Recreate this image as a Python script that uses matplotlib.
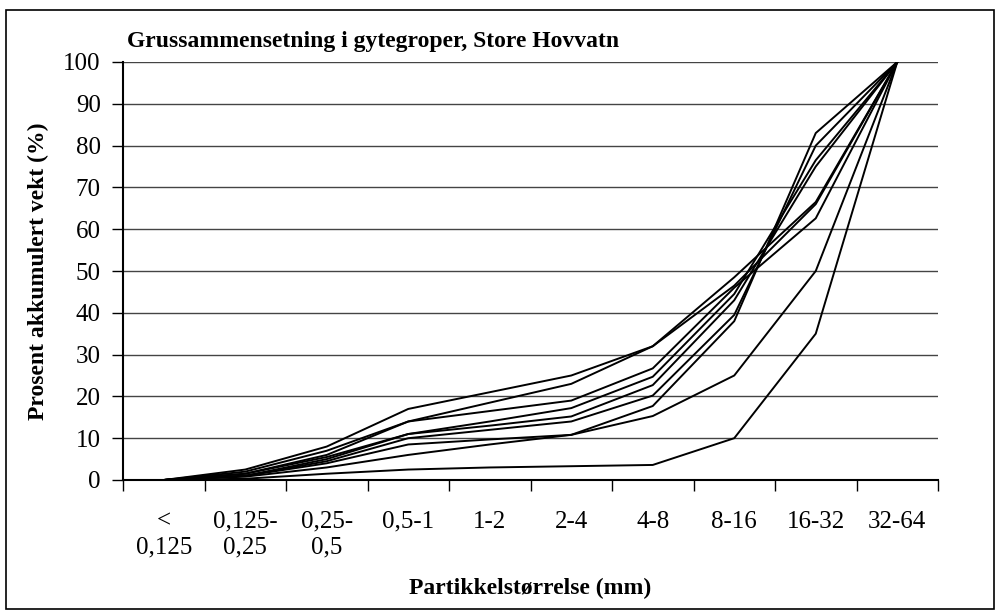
import numpy as np
import matplotlib.pyplot as plt
from matplotlib.patches import Rectangle

plt.rcParams['font.family'] = ['Liberation Serif', 'DejaVu Serif']

# kornfordeling, akkumulert vekt (%) per grop
kategorier = ["<\n0,125", "0,125-\n0,25", "0,25-\n0,5", "0,5-1", "1-2",
              "2-4", "4-8", "8-16", "16-32", "32-64"]

grop1 = [0, 2.5, 8.0, 17.0, 21.0, 25.0, 32.0, 48.5, 66.5, 100]
grop2 = [0, 2.0, 7.0, 14.0, 18.5, 23.0, 32.0, 46.5, 66.0, 100]
grop3 = [0, 1.5, 6.0, 14.0, 16.5, 19.0, 26.7, 46.0, 62.6, 100]
grop4 = [0, 1.5, 5.5, 11.0, 14.0, 17.2, 24.7, 44.5, 76.5, 100]
grop5 = [0, 1.0, 5.0, 11.0, 13.0, 15.2, 22.7, 43.0, 75.0, 100]
grop6 = [0, 1.0, 4.5, 10.0, 12.0, 14.0, 20.2, 39.5, 80.0, 100]
grop7 = [0, 1.0, 4.0, 8.5, 9.7, 10.8, 17.7, 38.0, 83.0, 100]
grop8 = [0, 0.8, 3.0, 6.0, 8.5, 10.8, 15.3, 25.0, 50.0, 100]
grop9 = [0, 0.3, 1.5, 2.5, 3.0, 3.3, 3.6, 10.0, 35.0, 100]

groper = [grop1, grop2, grop3, grop4, grop5, grop6, grop7, grop8, grop9]

W, H = 997, 612
fig = plt.figure(figsize=(W / 100, H / 100), dpi=100)

# ramme rundt hele diagrammet
fig.patches.append(Rectangle((6 / W, 1 - 609 / H), 988 / W, 599 / H,
                             transform=fig.transFigure, fill=False,
                             edgecolor='black', linewidth=1.2))

ax = fig.add_axes([123 / W, 1 - 480 / H, 815 / W, 418 / H])

x = np.arange(len(kategorier))
for g in groper:
    ax.plot(x, g, color='black', linewidth=1.4)

ax.set_xlim(-0.5, len(kategorier) - 0.5)
ax.set_ylim(0, 100)
ax.set_yticks(range(0, 101, 10))
ax.yaxis.grid(True, color='#444444', linewidth=1)
ax.set_axisbelow(True)

# kategori-etiketter midt i hvert felt, tick-merker på grensene
ax.set_xticks(np.arange(-0.5, len(kategorier), 1.0))
ax.set_xticklabels([])
ax.set_xticks(x, minor=True)
ax.set_xticklabels(kategorier, minor=True, fontsize=18, va='top',
                   multialignment='center')
ax.tick_params(axis='x', which='minor', length=0, pad=22)
ax.tick_params(axis='x', which='major', length=8, width=1, direction='out')
ax.tick_params(axis='y', labelsize=18, length=8, width=1, direction='out', pad=8)

for side in ['top', 'right']:
    ax.spines[side].set_visible(False)
ax.spines['left'].set_linewidth(1.5)
ax.spines['bottom'].set_linewidth(1.5)

ax.set_xlabel("Partikkelstørrelse (mm)", fontsize=17, fontweight='bold', labelpad=14)
ax.set_ylabel("Prosent akkumulert vekt (%)", fontsize=17, fontweight='bold', labelpad=10)

fig.text(127 / W, 1 - 47 / H, "Grussammensetning i gytegroper, Store Hovvatn",
         fontsize=17, fontweight='bold', ha='left', va='baseline')

fig.savefig("out.png", dpi=100)
